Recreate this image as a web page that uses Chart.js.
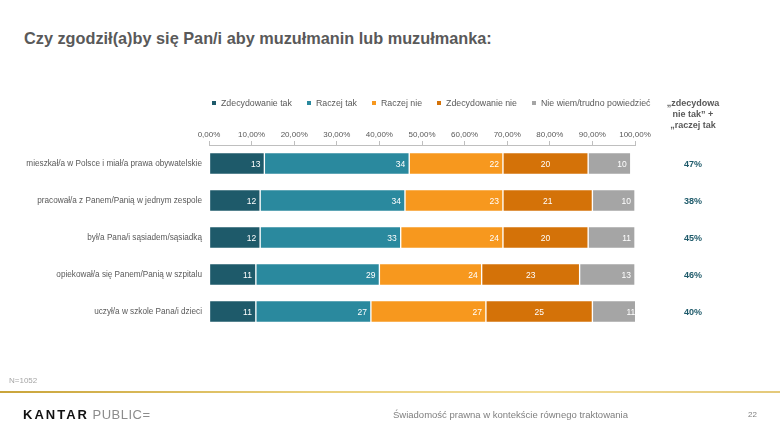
<!DOCTYPE html>
<html>
<head>
<meta charset="utf-8">
<script src="https://cdn.jsdelivr.net/npm/chart.js@4.4.1/dist/chart.umd.min.js"></script>
<style>
    body { margin: 0; background: #fff; font-family: "Liberation Sans", Arial, sans-serif; }
    #wrap { position: relative; width: 780px; height: 439px; overflow: hidden; }
    #wykres { position: absolute; left: 0; top: 0; }
    .abs { position: absolute; white-space: nowrap; }
    #tytul { left: 24px; top: 29px; font-size: 16.3px; font-weight: bold; color: #595959; }
    #legenda { left: 212px; top: 98px; font-size: 8.8px; color: #595959; display: flex; }
    #legenda span.item { margin-right: 15px; display: flex; align-items: center; }
    #legenda span.kw { width: 4px; height: 4px; display: inline-block; margin-right: 5px; }
    #naglowek { left: 648px; top: 98px; width: 90px; text-align: center; font-size: 9px; font-weight: bold; color: #595959; line-height: 11px; }
    #n { left: 9px; top: 376px; font-size: 8px; color: #a6a6a6; }
    #linia { left: 0; top: 391px; width: 780px; height: 2px; background: linear-gradient(to right, #c9a43a, #e9cf7a 40%, #f1dc95 70%, #e4c97a); }
    #logo { left: 23px; top: 407px; font-size: 13px; }
    #logo b { color: #111; letter-spacing: 2px; }
    #logo span { color: #8c8c8c; letter-spacing: 0.5px; }
    #stopka { left: 393px; top: 409px; font-size: 9.5px; color: #7f7f7f; }
    #strona { left: 748px; top: 410px; font-size: 8px; color: #7f7f7f; }
</style>
</head>
<body>
<div id="wrap">
    <div id="tytul" class="abs">Czy zgodził(a)by się Pan/i aby muzułmanin lub muzułmanka:</div>
    <canvas id="wykres" width="780" height="439"></canvas>
    <div id="legenda" class="abs"></div>
    <div id="naglowek" class="abs">„zdecydowa<br>nie tak” +<br>„raczej tak</div>
    <div id="n" class="abs">N=1052</div>
    <div id="linia" class="abs"></div>
    <div id="logo" class="abs"><b>KANTAR</b> <span>PUBLIC=</span></div>
    <div id="stopka" class="abs">Świadomość prawna w kontekście równego traktowania</div>
    <div id="strona" class="abs">22</div>
</div>

<script>
    "use strict";

    // Dane
    var kategorie = [
        "mieszkał/a w Polsce i miał/a prawa obywatelskie",
        "pracował/a z Panem/Panią w jednym zespole",
        "był/a Pana/i sąsiadem/sąsiadką",
        "opiekował/a się Panem/Panią w szpitalu",
        "uczył/a w szkole Pana/i dzieci"
    ];
    var serie = ["Zdecydowanie tak", "Raczej tak", "Raczej nie", "Zdecydowanie nie", "Nie wiem/trudno powiedzieć"];
    var zdecydowanieTak = [13, 12, 12, 11, 11];
    var raczejTak = [34, 34, 33, 29, 27];
    var raczejNie = [22, 23, 24, 24, 27];
    var zdecydowanieNie = [20, 21, 20, 23, 25];
    var nieWiem = [10, 10, 11, 13, 11];
    var sumy = ["47%", "38%", "45%", "46%", "40%"];
    var kolory = ["#1e5a6a", "#2a899e", "#f7981e", "#d47208", "#a5a5a5"];

    var wartosci = [zdecydowanieTak, raczejTak, raczejNie, zdecydowanieNie, nieWiem];

    // Legenda w HTML
    var leg = document.getElementById('legenda');
    serie.forEach(function (s, i) {
        var it = document.createElement('span');
        it.className = 'item';
        it.innerHTML = '<span class="kw" style="background:' + kolory[i] + '"></span>' + s;
        leg.appendChild(it);
    });

    // Etykiety wartosci na slupkach + kolumna sum
    var etykiety = {
        id: 'etykiety',
        afterDatasetsDraw: function (chart) {
            var ctx = chart.ctx;
            ctx.save();
            ctx.font = '8.5px "Liberation Sans", Arial, sans-serif';
            ctx.fillStyle = '#ffffff';
            ctx.textBaseline = 'middle';
            chart.data.datasets.forEach(function (ds, d) {
                chart.getDatasetMeta(d).data.forEach(function (el, i) {
                    var txt = String(ds.data[i]);
                    if (d === 3) {
                        ctx.textAlign = 'center';
                        ctx.fillText(txt, (el.base + el.x) / 2, el.y + 1);
                    } else {
                        ctx.textAlign = 'right';
                        ctx.fillText(txt, el.x - 4, el.y + 1);
                    }
                });
            });
            // sumy po prawej
            ctx.font = 'bold 9px "Liberation Sans", Arial, sans-serif';
            ctx.fillStyle = '#1e5a6a';
            ctx.textAlign = 'center';
            var y = chart.scales.y;
            sumy.forEach(function (s, i) {
                ctx.fillText(s, 693, y.getPixelForValue(i) + 1);
            });
            ctx.restore();
        }
    };

    var ctx = document.getElementById('wykres').getContext('2d');
    var wykres = new Chart(ctx, {
        type: 'bar',
        data: {
            labels: kategorie,
            datasets: serie.map(function (s, i) {
                return {
                    label: s,
                    data: wartosci[i],
                    backgroundColor: kolory[i],
                    borderColor: 'rgba(255,255,255,0.85)',
                    borderWidth: 1,
                    borderSkipped: false,
                    barThickness: 22
                };
            })
        },
        options: {
            indexAxis: 'y',
            responsive: false,
            animation: false,
            devicePixelRatio: 1,
            layout: { padding: { left: 0, right: 145, top: 118, bottom: 109 } },
            plugins: {
                legend: { display: false },
                tooltip: { enabled: false }
            },
            scales: {
                x: {
                    position: 'top',
                    stacked: true,
                    min: 0,
                    max: 100,
                    afterFit: function (s) { s.height = 27; },
                    ticks: {
                        stepSize: 10,
                        padding: 1,
                        color: '#595959',
                        font: { family: '"Liberation Sans", Arial, sans-serif', size: 8 },
                        callback: function (v) { return v.toFixed(2).replace('.', ',') + '%'; }
                    },
                    grid: { drawOnChartArea: false, drawTicks: true, tickLength: 4, color: '#bfbfbf' },
                    border: { display: true, color: '#bfbfbf' }
                },
                y: {
                    stacked: true,
                    afterFit: function (s) { s.width = 209; },
                    ticks: {
                        padding: 7,
                        color: '#595959',
                        font: { family: '"Liberation Sans", Arial, sans-serif', size: 8.2 }
                    },
                    grid: { display: false, drawTicks: false },
                    border: { display: false }
                }
            }
        },
        plugins: [etykiety]
    });
</script>
</body>
</html>
